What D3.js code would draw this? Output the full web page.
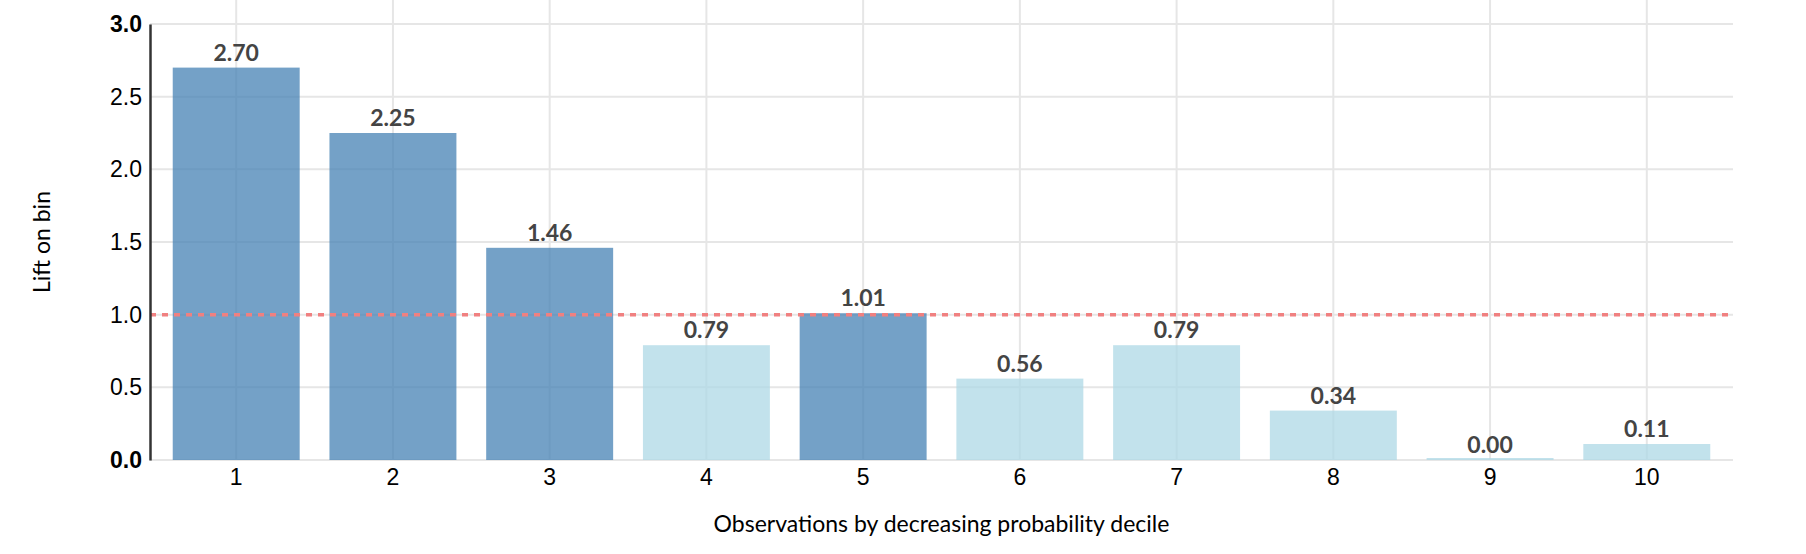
<!DOCTYPE html>
<html>
<head>
<meta charset="utf-8">
<script src="https://cdn.jsdelivr.net/npm/d3@7"></script>
<style>
  body { margin: 0; background: #fff; }
  svg { display: block; font-family: "Source Sans Pro", Lato, "Open Sans", sans-serif; }
</style>
</head>
<body>
<div id="chart"></div>
<script>
// deciles and lift per bin
const deciles = ['1', '2', '3', '4', '5', '6', '7', '8', '9', '10']
const lift = [2.70, 2.25, 1.46, 0.79, 1.01, 0.56, 0.79, 0.34, 0.00, 0.11]
const yTicks = [0, 0.5, 1.0, 1.5, 2.0, 2.5, 3.0]
const baseline = 1.0

const width = 1806
const height = 554
const margin = { top: 24, right: 73, bottom: 94, left: 150 }
const fontSize = '23px'

const svg = d3
  .select('#chart')
  .append('svg')
  .attr('width', width)
  .attr('height', height)

const x = d3
  .scaleBand()
  .domain(deciles)
  .range([margin.left, width - margin.right])
  .paddingInner(0.19)
  .paddingOuter(0.145)

const y = d3
  .scaleLinear()
  .domain([0, 3])
  .range([height - margin.bottom, margin.top])

// grid
const grid = svg.append('g').attr('class', 'grid')
grid
  .selectAll('line.h')
  .data(yTicks)
  .enter()
  .append('line')
  .attr('class', 'h')
  .attr('x1', margin.left)
  .attr('x2', width - margin.right)
  .attr('y1', (d) => y(d))
  .attr('y2', (d) => y(d))
  .attr('stroke', '#e6e6e6')
  .attr('stroke-width', 2)

grid
  .selectAll('line.v')
  .data(deciles)
  .enter()
  .append('line')
  .attr('class', 'v')
  .attr('x1', (d) => x(d) + x.bandwidth() / 2)
  .attr('x2', (d) => x(d) + x.bandwidth() / 2)
  .attr('y1', 0)
  .attr('y2', y(0))
  .attr('stroke', '#e6e6e6')
  .attr('stroke-width', 2)

// bars
const bars = svg.append('g').attr('class', 'bars')
bars
  .selectAll('rect')
  .data(lift)
  .enter()
  .append('rect')
  .attr('x', (d, i) => x(deciles[i]))
  .attr('width', x.bandwidth())
  .attr('y', (d) => Math.min(y(d), y(0) - 2))
  .attr('height', (d) => Math.max(y(0) - y(d), 2))
  .attr('fill', (d) => (d >= baseline ? '#4682b4' : '#add8e6'))
  .attr('opacity', 0.75)

// value labels
bars
  .selectAll('text')
  .data(lift)
  .enter()
  .append('text')
  .attr('x', (d, i) => x(deciles[i]) + x.bandwidth() / 2)
  .attr('y', (d) => y(d) - 7)
  .attr('text-anchor', 'middle')
  .attr('font-size', fontSize)
  .attr('font-weight', 'bold')
  .attr('fill', '#444')
  .text((d) => d.toFixed(2))

// reference line at lift = 1
svg
  .append('line')
  .attr('x1', margin.left)
  .attr('x2', width - margin.right)
  .attr('y1', y(baseline))
  .attr('y2', y(baseline))
  .attr('stroke', '#f08080')
  .attr('stroke-width', 3.5)
  .attr('stroke-dasharray', '6,6')

// y axis
const yAxis = svg
  .append('g')
  .attr('transform', `translate(${margin.left},0)`)
  .call(d3.axisLeft(y).tickValues(yTicks).tickFormat(d3.format('.1f')).tickSize(0).tickPadding(8))
yAxis.select('.domain').attr('stroke', '#333').attr('stroke-width', 2.5)
yAxis
  .selectAll('text')
  .attr('font-size', fontSize)
  .attr('font-family', null)
  .attr('fill', '#000')
  .attr('font-weight', (d) => (d === 0 || d === 3 ? 'bold' : 'normal'))

// x axis
const xAxis = svg
  .append('g')
  .attr('transform', `translate(0,${y(0)})`)
  .call(d3.axisBottom(x).tickSize(0).tickPadding(9))
xAxis.select('.domain').remove()
xAxis
  .selectAll('text')
  .attr('font-size', fontSize)
  .attr('font-family', null)
  .attr('fill', '#000')

// axis titles
svg
  .append('text')
  .attr('x', (margin.left + width - margin.right) / 2)
  .attr('y', 532)
  .attr('text-anchor', 'middle')
  .attr('font-size', fontSize)
  .attr('fill', '#000')
  .text('Observations by decreasing probability decile')

svg
  .append('text')
  .attr('transform', `translate(50,${(y(0) + y(3)) / 2}) rotate(-90)`)
  .attr('text-anchor', 'middle')
  .attr('font-size', fontSize)
  .attr('fill', '#000')
  .text('Lift on bin')
</script>
</body>
</html>
